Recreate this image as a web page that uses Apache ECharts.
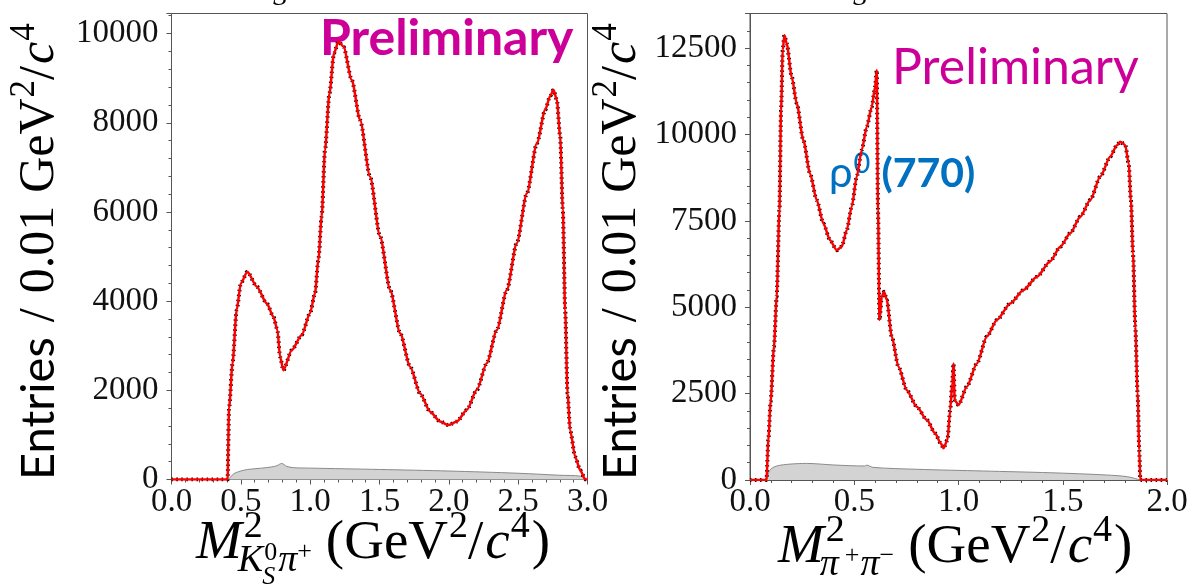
<!DOCTYPE html>
<html><head><meta charset="utf-8">
<script src="https://cdn.jsdelivr.net/npm/echarts/dist/echarts.min.js"></script>
<style>html,body{margin:0;padding:0;background:#fff}#c{width:1192px;height:587px}</style>
</head><body><div id="c"></div>
<script>
// ---------------- data ----------------
const leftX = [0, 0.405, 0.410, 0.415, 0.440, 0.470, 0.500, 0.547, 0.614, 0.687, 0.735, 0.764, 0.783, 0.807, 0.867, 0.939, 0.999, 1.035, 1.059, 1.083, 1.107, 1.139, 1.172, 1.204, 1.240, 1.300, 1.360, 1.432, 1.504, 1.577, 1.649, 1.721, 1.793, 1.865, 1.937, 1.997, 2.057, 2.130, 2.202, 2.274, 2.346, 2.418, 2.490, 2.563, 2.635, 2.695, 2.731, 2.755, 2.779, 2.803, 2.822, 2.839, 2.856, 2.875, 2.911, 2.947, 2.984, 3.0];
const leftY = [0, 0, 0, 1600, 2600, 3800, 4400, 4660, 4330, 3950, 3650, 3350, 2750, 2450, 2900, 3240, 3730, 4180, 4920, 5900, 7390, 8660, 9560, 9820, 9710, 8960, 8060, 6790, 5450, 4250, 3280, 2530, 1930, 1520, 1300, 1220, 1300, 1560, 2010, 2610, 3350, 4250, 5300, 6420, 7540, 8290, 8600, 8740, 8510, 7690, 6050, 3800, 1930, 1110, 510, 210, 0, 0];
const leftBgX = [0.410, 0.450, 0.500, 0.550, 0.650, 0.720, 0.760, 0.795, 0.830, 0.880, 1.000, 1.500, 2.000, 2.500, 2.800, 2.950, 2.990];
const leftBgY = [0, 130, 190, 225, 255, 280, 310, 360, 295, 265, 255, 225, 190, 140, 95, 75, 0];

const rightX = [0, 0.079, 0.088, 0.099, 0.115, 0.128, 0.141, 0.149, 0.157, 0.165, 0.176, 0.200, 0.224, 0.256, 0.288, 0.320, 0.352, 0.384, 0.416, 0.440, 0.464, 0.488, 0.512, 0.536, 0.560, 0.584, 0.600, 0.608, 0.614, 0.621, 0.632, 0.643, 0.656, 0.680, 0.712, 0.752, 0.800, 0.848, 0.888, 0.915, 0.928, 0.947, 0.960, 0.970, 0.976, 0.982, 1.000, 1.040, 1.088, 1.136, 1.184, 1.248, 1.312, 1.376, 1.440, 1.488, 1.536, 1.584, 1.632, 1.680, 1.728, 1.760, 1.776, 1.800, 1.816, 1.827, 1.837, 1.848, 1.859, 1.867, 1.872, 2.0];
const rightY = [0, 0, 1160, 2270, 3860, 5300, 7810, 10700, 12440, 12870, 12630, 11670, 10900, 9830, 8870, 8100, 7420, 6940, 6650, 6750, 7230, 7910, 8780, 9550, 10220, 10800, 11380, 11860, 7810, 4630, 5300, 5450, 5210, 4150, 3280, 2600, 2120, 1740, 1350, 1060, 920, 1160, 2020, 2800, 3370, 2310, 2170, 2700, 3370, 4150, 4630, 5110, 5500, 5880, 6330, 6750, 7140, 7620, 8100, 8780, 9360, 9690, 9790, 9690, 9160, 8100, 6560, 4440, 2510, 870, 0, 0];
const rightBgX = [0.079, 0.096, 0.128, 0.192, 0.272, 0.400, 0.550, 0.560, 0.590, 0.800, 1.120, 1.440, 1.710, 1.810, 1.872];
const rightBgY = [0, 290, 405, 460, 480, 435, 405, 430, 365, 310, 260, 210, 145, 95, 0];

const leftXTicks = [0, 0.5, 1.0, 1.5, 2.0, 2.5, 3.0];
const leftYTicks = [0, 2000, 4000, 6000, 8000, 10000];
const rightXTicks = [0, 0.5, 1.0, 1.5, 2.0];
const rightYTicks = [0, 2500, 5000, 7500, 10000, 12500];

// ---------------- helpers ----------------
const pair = (xs, ys) => xs.map((x, i) => [x, ys[i]]);
const SERIF = "'Liberation Serif', 'DejaVu Serif', serif";
const SANS = "Lato, 'Open Sans', 'Noto Sans', sans-serif";
const AX = '#555';
const mctx = document.createElement('canvas').getContext('2d');
function fstr(it) {
  return (it.style || 'normal') + ' ' + (it.weight || 'normal') + ' ' + it.size + 'px ' + (it.family || SERIF);
}
function kOf(it) { return (it.family === SANS) ? 0.39 : 0.34; }
function chain(items, x0, base, color) {
  const out = [];
  let cursor = x0, prevBase = x0;
  items.forEach(it => {
    mctx.font = fstr(it);
    const w = mctx.measureText(it.t).width;
    const b = it.same ? prevBase : cursor;
    const start = b + (it.dx || 0);
    out.push({
      type: 'text', x: start, y: base + (it.dy || 0) - kOf(it) * it.size, silent: true,
      style: { text: it.t, font: fstr(it), fill: it.color || color || '#000',
               textAlign: 'left', textVerticalAlign: 'middle', align: 'left', verticalAlign: 'middle' }
    });
    cursor = it.same ? Math.max(cursor, start + w) : start + w;
    prevBase = b;
  });
  return out;
}

// ---------------- text pieces ----------------
const F = 55, s1 = 38, s2 = 26;
const leftXTitle = chain([
  { t: 'M', size: F, style: 'italic' },
  { t: '2', size: s1, dy: -22, dx: 2 },
  { t: 'K', size: s1, style: 'italic', dy: 12, same: true, dx: -4 },
  { t: '0', size: s2, dy: 0, dx: 1 },
  { t: 'S', size: s2, style: 'italic', dy: 24, same: true, dx: -1 },
  { t: 'π', size: s1, style: 'italic', dy: 12, dx: 1 },
  { t: '+', size: s2, dy: -1 },
  { t: '(GeV', size: F, dx: 14 },
  { t: '2', size: s1, dy: -22, dx: 1 },
  { t: '/', size: F },
  { t: 'c', size: F, style: 'italic', dx: 2 },
  { t: '4', size: s1, dy: -22, dx: 1 },
  { t: ')', size: F, dx: 2 }
], 196, 562);
const rightXTitle = chain([
  { t: 'M', size: F, style: 'italic' },
  { t: '2', size: s1, dy: -22, dx: 2 },
  { t: 'π', size: s1, style: 'italic', dy: 12, same: true, dx: -4 },
  { t: '+', size: s2, dy: -1 },
  { t: 'π', size: s1, style: 'italic', dy: 12, dx: 1 },
  { t: '−', size: s2, dy: -1 },
  { t: '(GeV', size: F, dx: 14 },
  { t: '2', size: s1, dy: -22, dx: 1 },
  { t: '/', size: F },
  { t: 'c', size: F, style: 'italic', dx: 2 },
  { t: '4', size: s1, dy: -22, dx: 1 },
  { t: ')', size: F, dx: 2 }
], 778, 566);
const yTitleItems = [
  { t: 'Entries', size: 47, family: SANS },
  { t: '/', size: 50, dx: 15 },
  { t: '0.01', size: 50, dx: 15 },
  { t: 'GeV', size: 50, dx: 13 },
  { t: '2', size: 35, dy: -20, dx: 1 },
  { t: '/', size: 50 },
  { t: 'c', size: 50, style: 'italic', dx: 2 },
  { t: '4', size: 35, dy: -20, dx: 1 }
];
const graphics = [
  { type: 'group', x: 0, y: 480, rotation: Math.PI / 2, children: chain(yTitleItems, 0, 57) },
  { type: 'group', x: 582, y: 480, rotation: Math.PI / 2, children: chain(yTitleItems, 0, 57) }
]
  .concat(leftXTitle, rightXTitle)
  .concat(chain([{ t: 'Preliminary', size: 50, family: SANS, weight: 'bold' }], 320, 58, '#CC0099'))
  .concat(chain([{ t: 'Preliminary', size: 50, family: SANS }], 892, 87, '#CC0099'))
  .concat(chain([
    { t: 'ρ', size: 42, family: SANS },
    { t: '0', size: 29, family: SANS, dy: -15, dx: 1 },
    { t: '(770)', size: 41, family: SANS, weight: 'bold', dx: 11 }
  ], 829, 190, '#0070C0'))
  .concat(chain([{ t: 'S', size: 28, style: 'italic' }], 273, 7))
  .concat(chain([{ t: 'S', size: 28, style: 'italic' }], 853, 7));

// ---------------- axes ----------------
const tickFont = { fontFamily: SERIF, fontSize: 33, color: '#111' };
function xAxisFor(grid, max, ticks) {
  return {
    type: 'value', gridIndex: grid, min: 0, max: max, interval: 0.5,
    axisLine: { show: true, onZero: false, lineStyle: { color: AX, width: 1 } },
    axisTick: { show: true, length: 5, lineStyle: { color: AX } },
    minorTick: { show: true, splitNumber: 5, length: 3, lineStyle: { color: AX } },
    splitLine: { show: false }, minorSplitLine: { show: false },
    axisLabel: Object.assign({ margin: 6, formatter: v => { const i = ticks.findIndex(t => Math.abs(t - v) < 1e-6); return i < 0 ? '' : ticks[i].toFixed(1); } }, tickFont)
  };
}
function yAxesFor(grid, max, major, minor, ticks) {
  return [{
    type: 'value', gridIndex: grid, min: 0, max: max, interval: major, position: 'left',
    axisLine: { show: true, onZero: false, lineStyle: { color: AX, width: 1 } },
    axisTick: { show: true, length: 5, lineStyle: { color: AX } },
    splitLine: { show: false },
    axisLabel: Object.assign({ margin: 13, formatter: v => ticks.indexOf(v) >= 0 ? String(v) : '' }, tickFont)
  }, {
    type: 'value', gridIndex: grid, min: 0, max: max, interval: minor, position: 'left',
    axisLine: { show: false }, axisLabel: { show: false }, splitLine: { show: false },
    axisTick: { show: true, length: 3, lineStyle: { color: AX } }
  }];
}
function seriesFor(xi, yi, X, Y, BX, BY) {
  return [{
    type: 'line', xAxisIndex: xi, yAxisIndex: yi, data: pair(BX, BY), symbol: 'none', smooth: 0.3, z: 1,
    lineStyle: { color: '#8a8a8a', width: 1 }, areaStyle: { color: '#d3d3d3', opacity: 1 }, silent: true
  }, {
    type: 'line', xAxisIndex: xi, yAxisIndex: yi, data: pair(X, Y), symbol: 'none', smooth: 0.25, smoothMonotone: 'x', z: 2,
    lineStyle: { color: '#000', width: 4, type: [1.5, 3.5] }, silent: true
  }, {
    type: 'line', xAxisIndex: xi, yAxisIndex: yi, data: pair(X, Y), symbol: 'none', smooth: 0.25, smoothMonotone: 'x', z: 3,
    lineStyle: { color: '#ff0000', width: 2.5 }, silent: true
  }];
}

const chart = echarts.init(document.getElementById('c'), null, { renderer: 'canvas' });
chart.setOption({
  animation: false,
  backgroundColor: '#fff',
  grid: [
    { left: 171.5, top: 13.5, width: 416, height: 466, show: true, borderColor: AX, borderWidth: 1, containLabel: false, outerBoundsMode: 'none' },
    { left: 750, top: 13.5, width: 417, height: 466.5, show: true, borderColor: AX, borderWidth: 1, containLabel: false, outerBoundsMode: 'none' }
  ],
  xAxis: [xAxisFor(0, 3, leftXTicks), xAxisFor(1, 2, rightXTicks)],
  yAxis: yAxesFor(0, 10450, 2000, 400, leftYTicks).concat(yAxesFor(1, 13500, 2500, 500, rightYTicks)),
  series: seriesFor(0, 0, leftX, leftY, leftBgX, leftBgY).concat(seriesFor(1, 2, rightX, rightY, rightBgX, rightBgY)),
  graphic: graphics
});
</script>
</body></html>
